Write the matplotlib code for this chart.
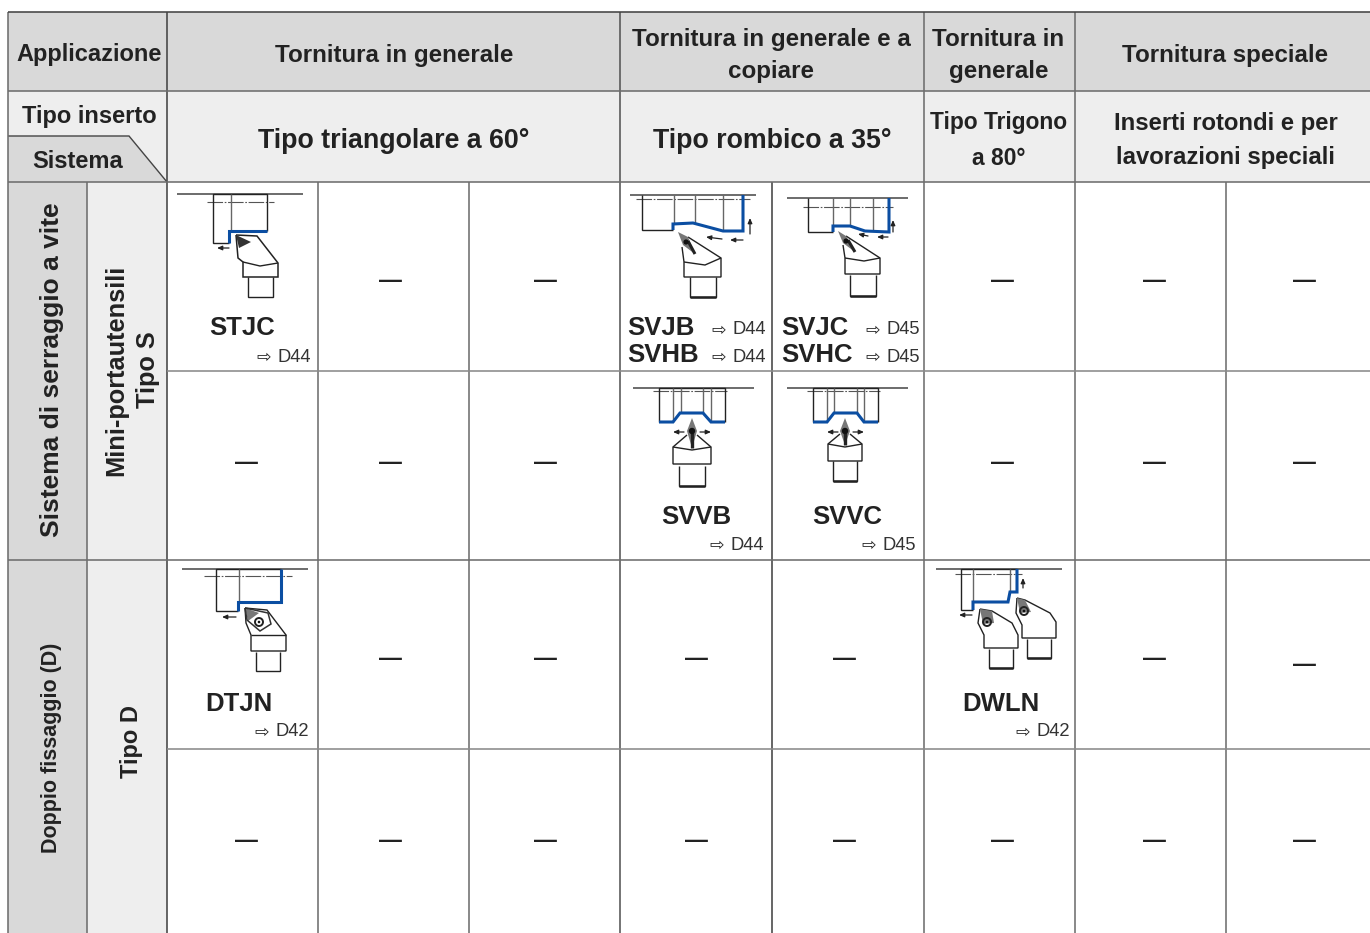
#!/usr/bin/env python3
"""Tabella dei sistemi di serraggio per tornitura esterna."""
import matplotlib

matplotlib.use("Agg")
import matplotlib.pyplot as plt
from matplotlib.patches import Polygon, Rectangle

# table structure
COL_X = [8, 87, 167, 318, 469, 620.5, 772, 924, 1075, 1226, 1371]
ROW_Y = [12, 91, 182, 371, 560, 749, 934]

# header labels
APPLICATIONS = ["Tornitura in generale", "Tornitura in generale e a\ncopiare", "Tornitura in\ngenerale", "Tornitura speciale"]
APP_X = [394, 771.5, 998.5, 1225.5]
INSERTS = ["Tipo triangolare a 60°", "Tipo rombico a 35°", "Tipo Trigono\na 80°", "Inserti rotondi e per\nlavorazioni speciali"]
INSERT_X = [394, 772, 999, 1225.5]
INSERT_SIZE = [19.3, 19.3, 16.4, 17.2]
INSERT_SPACING = [1.5, 1.5, 1.68, 1.6]

# empty cells, one list of x per row
DASH_ROWS = [280, 462, 658, 840]
DASH_X = [
    [390, 545, 1002, 1154, 1304],
    [246, 390, 545, 1002, 1154, 1304],
    [390, 545, 696, 844, 1154],
    [246, 390, 545, 696, 844, 1002, 1154, 1304],
]

# holder codes: name, x, y, ha, page, page right edge, page y
CODES = [
    ("STJC", 242, 328, "center", "D44", 311, 357),
    ("SVJB", 627, 328, "left", "D44", 766, 330),
    ("SVHB", 627, 355, "left", "D44", 766, 357),
    ("SVJC", 781, 328, "left", "D45", 920, 330),
    ("SVHC", 781, 355, "left", "D45", 920, 357),
    ("SVVB", 696, 517, "center", "D44", 764, 545),
    ("SVVC", 847, 517, "center", "D45", 916, 545),
    ("DTJN", 239, 704, "center", "D42", 309, 732),
    ("DWLN", 1001, 704, "center", "D42", 1070, 732),
]

DARK = "#222222"
LINE = "#6e6e6e"
BLUE = "#0b4ea2"
HEAD = "#d9d9d9"
SOFT = "#eeeeee"

plt.rcParams["font.family"] = ["Liberation Sans", "DejaVu Sans"]
fig = plt.figure(figsize=(13.7, 9.33), dpi=100)
ax = fig.add_axes([0, 0, 1, 1])
ax.set_xlim(0, 1370)
ax.set_ylim(933, 0)
ax.axis("off")


def poly(pts, color=DARK, lw=1.0, z=5):
    xs, ys = zip(*pts)
    ax.plot(xs, ys, color=color, lw=lw, zorder=z, solid_capstyle="butt", solid_joinstyle="miter")


def fill(pts, color=DARK, z=6):
    ax.add_patch(Polygon(pts, closed=True, fc=color, ec="none", zorder=z))


def dot(x, y, r=2.6, color="#111111", z=8):
    ax.add_patch(plt.Circle((x, y), r, fc=color, ec="none", zorder=z))


def arrow(x0, y0, x1, y1):
    ax.annotate("", xy=(x1, y1), xytext=(x0, y0), zorder=6,
                arrowprops=dict(arrowstyle="-|>,head_width=0.13,head_length=0.3", color=DARK, lw=0.9,
                                shrinkA=0, shrinkB=0))


def work(top, dash, outline, blue, inner):
    # workpiece: reference line, centre line, outline, machined profile in blue
    poly([(top[0], top[2]), (top[1], top[2])], "#444444", 1.1)
    ax.plot([dash[0], dash[1]], [dash[2], dash[2]], color="#555555", lw=0.8, ls=(0, (14, 1.5, 1.5, 1.5)), zorder=5)
    poly(outline, DARK, 1.0)
    poly(blue, BLUE, 2.2, z=6)
    for x, y0, y1 in inner:
        poly([(x, y0), (x, y1)], "#666666", 1.0)


# table background
ax.add_patch(Rectangle((8, 12), 1362, 79, fc=HEAD, ec="none", zorder=0))
ax.add_patch(Rectangle((8, 91), 1362, 91, fc=SOFT, ec="none", zorder=0))
ax.add_patch(Rectangle((8, 182), 79, 751, fc=HEAD, ec="none", zorder=0))
ax.add_patch(Rectangle((87, 182), 80, 751, fc=SOFT, ec="none", zorder=0))
fill([(8, 136), (129, 136), (167, 182), (8, 182)], HEAD, z=0.5)
poly([(8, 136), (129, 136), (167, 182)], "#444444", 1.0, z=1)

# table grid
for x, y0, col in [(COL_X[0], ROW_Y[0], LINE), (COL_X[1], ROW_Y[2], LINE), (COL_X[2], ROW_Y[0], "#444444"),
                   (COL_X[3], ROW_Y[2], LINE), (COL_X[4], ROW_Y[2], LINE), (COL_X[5], ROW_Y[0], "#555555"),
                   (COL_X[6], ROW_Y[2], "#444444"), (COL_X[7], ROW_Y[0], LINE), (COL_X[8], ROW_Y[0], LINE),
                   (COL_X[9], ROW_Y[2], LINE)]:
    poly([(x, y0), (x, 933)], col, 1.15, z=2)
for y, x0, col in [(ROW_Y[0], COL_X[0], "#444444"), (ROW_Y[1], COL_X[0], LINE), (ROW_Y[2], COL_X[0], LINE),
                   (ROW_Y[3], COL_X[2], "#8a8a8a"), (ROW_Y[4], COL_X[0], LINE), (ROW_Y[5], COL_X[2], "#8a8a8a")]:
    poly([(x0, y), (1370, y)], col, 1.15, z=2)

# header text
ax.text(89, 55, "Applicazione", ha="center", va="center", fontsize=17, fontweight="bold", color=DARK)
ax.text(89, 117, "Tipo inserto", ha="center", va="center", fontsize=17, fontweight="bold", color=DARK)
ax.text(78, 162, "Sistema", ha="center", va="center", fontsize=17, fontweight="bold", color=DARK)
for label, x in zip(APPLICATIONS, APP_X):
    ax.text(x, 55.5, label, ha="center", va="center", fontsize=17.4, fontweight="bold", color=DARK, linespacing=1.5)
for label, x, size, spacing in zip(INSERTS, INSERT_X, INSERT_SIZE, INSERT_SPACING):
    ax.text(x, 140.5, label, ha="center", va="center", fontsize=size, fontweight="bold", color=DARK, linespacing=spacing)

# system text
ax.text(52, 370, "Sistema di serraggio a vite", rotation=90, ha="center", va="center", fontsize=19, fontweight="bold", color=DARK)
ax.text(132, 370, "Mini-portautensili\nTipo S", rotation=90, ha="center", va="center", multialignment="center",
        fontsize=18.3, fontweight="bold", color=DARK, linespacing=1.38)
ax.text(52, 748, "Doppio fissaggio (D)", rotation=90, ha="center", va="center", fontsize=15.5, fontweight="bold", color=DARK)
ax.text(132, 741, "Tipo D", rotation=90, ha="center", va="center", fontsize=17, fontweight="bold", color=DARK)

# dashes for empty cells
for y, xs in zip(DASH_ROWS, DASH_X):
    for x in xs:
        ax.text(x, y, "—", ha="center", va="center", fontsize=16.5, fontweight="bold", color=DARK)
ax.text(1304, 665, "—", ha="center", va="center", fontsize=16.5, fontweight="bold", color=DARK)

# codes and page references
for name, x, y, ha, page, right, page_y in CODES:
    ax.text(x, y, name, ha=ha, va="center", fontsize=18.5, fontweight="bold", color=DARK)
    ax.text(right, page_y, page, ha="right", va="center", fontsize=13.2, color="#333333")
    ax.text(right - 47, page_y, "\u21e8", ha="center", va="center", fontsize=12.5, color=DARK, family="DejaVu Sans")

# STJC
work((177, 303, 194), (207, 274, 202), [(229, 243), (213, 243), (213, 194), (267, 194), (267, 231)],
     [(229, 243), (229, 231), (267, 231)], [(231, 194, 231)])
arrow(229, 248, 217, 248)
poly([(236, 235), (257, 236), (278, 263), (278, 277), (243, 277), (243, 262), (238, 258), (236, 235)], DARK, 1.1)
poly([(243, 262), (260, 266), (278, 263)], DARK, 1.0)
poly([(248, 277), (248, 297), (273, 297), (273, 277)], DARK, 1.0)
fill([(236, 235), (251, 242), (239, 248)], "#333333")

# SVJB / SVHB
work((630, 756, 195), (636, 750, 199), [(673, 230), (642, 230), (642, 195)],
     [(673, 230), (673, 224), (693, 223), (723, 231), (743, 231), (743, 195)],
     [(674, 195, 224), (695, 195, 223), (723, 195, 230)])
arrow(750, 234, 750, 218)
arrow(743, 240, 730, 240)
arrow(722, 239, 706, 237)
fill([(678, 232), (688, 237), (695, 254), (683, 245)], "#777777")
poly([(688, 241), (695, 254)], "#222222", 2.2, z=7)
dot(686, 242)
poly([(688, 237), (721, 258), (721, 277), (684, 277), (684, 262), (682, 247)], DARK, 1.0)
poly([(684, 262), (705, 265), (721, 258)], DARK, 1.0)
poly([(690, 277), (690, 297), (716, 297), (716, 277)], DARK, 1.0)
poly([(690, 297), (716, 297)], DARK, 1.8)

# SVJC / SVHC
work((787, 908, 198), (803, 893, 207), [(833, 232), (808, 232), (808, 198)],
     [(833, 232), (833, 226), (850, 226), (865, 231), (889, 232), (889, 198)],
     [(833, 198, 226), (850, 198, 226), (873, 198, 231)])
arrow(893, 232, 893, 220)
arrow(888, 237, 877, 237)
arrow(868, 236, 858, 234)
fill([(838, 231), (846, 236), (855, 252), (843, 243)], "#777777")
poly([(848, 240), (855, 252)], "#222222", 2.2, z=7)
dot(846, 241)
poly([(846, 236), (880, 258), (880, 274), (845, 274), (845, 258), (843, 245)], DARK, 1.0)
poly([(845, 258), (864, 261), (880, 258)], DARK, 1.0)
poly([(850, 275), (850, 296), (876, 296), (876, 275)], DARK, 1.0)
poly([(850, 296), (876, 296)], DARK, 1.8)

# SVVB
work((633, 754, 388), (653, 727, 391), [(659, 422), (659, 388), (725, 388), (725, 422)],
     [(659, 422), (673, 422), (680, 413), (703, 413), (711, 422), (725, 422)],
     [(673, 388, 422), (681, 388, 413), (703, 388, 413), (711, 388, 422)])
arrow(684, 432, 673, 432)
arrow(700, 432, 711, 432)
fill([(692, 418), (697, 431), (692, 448), (687, 431)], "#777777")
poly([(692, 432), (692, 448)], "#222222", 2.4, z=7)
dot(692, 431, 3.2)
poly([(687, 435), (673, 447), (673, 464), (711, 464), (711, 447), (697, 435)], DARK, 1.0)
poly([(673, 447), (692, 450), (711, 447)], DARK, 1.0)
poly([(679, 466), (679, 486), (705, 486), (705, 466)], DARK, 1.0)
poly([(679, 486), (705, 486)], DARK, 1.8)

# SVVC
work((787, 908, 388), (807, 880, 391), [(813, 422), (813, 388), (878, 388), (878, 422)],
     [(813, 422), (827, 422), (834, 413), (857, 413), (864, 422), (878, 422)],
     [(827, 388, 422), (834, 388, 413), (857, 388, 413), (864, 388, 422)])
arrow(838, 432, 827, 432)
arrow(853, 432, 864, 432)
fill([(845, 418), (850, 431), (845, 445), (840, 431)], "#777777")
poly([(845, 432), (845, 445)], "#222222", 2.4, z=7)
dot(845, 431, 3.2)
poly([(840, 434), (828, 444), (828, 461), (862, 461), (862, 444), (850, 434)], DARK, 1.0)
poly([(828, 444), (845, 447), (862, 444)], DARK, 1.0)
poly([(833, 461), (833, 481), (857, 481), (857, 461)], DARK, 1.0)
poly([(833, 481), (857, 481)], DARK, 1.8)

# DTJN
work((182, 308, 569), (204, 292, 576), [(238, 611), (216, 611), (216, 569), (281, 569)],
     [(238, 611), (238, 602), (281, 602), (281, 569)], [(239, 569, 602)])
arrow(236, 617, 222, 617)
poly([(245, 608), (267, 610), (286, 635), (286, 651), (251, 651), (251, 635), (246, 623), (245, 608)], DARK, 1.0)
poly([(251, 635), (286, 635)], DARK, 1.0)
poly([(256, 652), (256, 671), (280, 671), (280, 652)], DARK, 1.0)
fill([(245, 608), (259, 613), (248, 621)], "#777777")
poly([(245, 608), (268, 613), (271, 624), (260, 631), (247, 620), (245, 608)], "#333333", 1.1, z=7)
ax.add_patch(plt.Circle((259, 622), 4, fc="none", ec=DARK, lw=1.4, zorder=7))
dot(259, 622, 1.3)

# DWLN
work((936, 1062, 569), (955, 1022, 574), [(973, 610), (961, 610), (961, 569), (1017, 569)],
     [(973, 610), (973, 602), (1008, 602), (1010, 592), (1017, 592), (1017, 569)],
     [(973, 569, 602), (1010, 569, 592)])
arrow(1023, 588, 1023, 578)
arrow(972, 615, 959, 615)
for tip, pts, low in [
    ((980, 609), [(992, 611), (1012, 623), (1018, 635), (1018, 648), (984, 648), (984, 635), (978, 623)],
     [(989, 649), (989, 668), (1013, 668), (1013, 649)]),
    ((1017, 598), [(1025, 600), (1050, 613), (1056, 622), (1056, 638), (1022, 638), (1022, 625), (1016, 613)],
     [(1027, 639), (1027, 658), (1051, 658), (1051, 639)]),
]:
    fill([tip, pts[0], (tip[0] + 14, tip[1] + 14), (tip[0] + 3, tip[1] + 15)], "#777777")
    poly([tip] + pts + [tip], DARK, 1.0)
    poly(low, DARK, 1.0)
    poly([low[1], low[2]], DARK, 1.8)
    ax.add_patch(plt.Circle((tip[0] + 7, tip[1] + 13), 4, fc="none", ec=DARK, lw=1.4, zorder=7))
    dot(tip[0] + 7, tip[1] + 13, 1.3)

fig.savefig("out.png", dpi=100)
plt.close(fig)
